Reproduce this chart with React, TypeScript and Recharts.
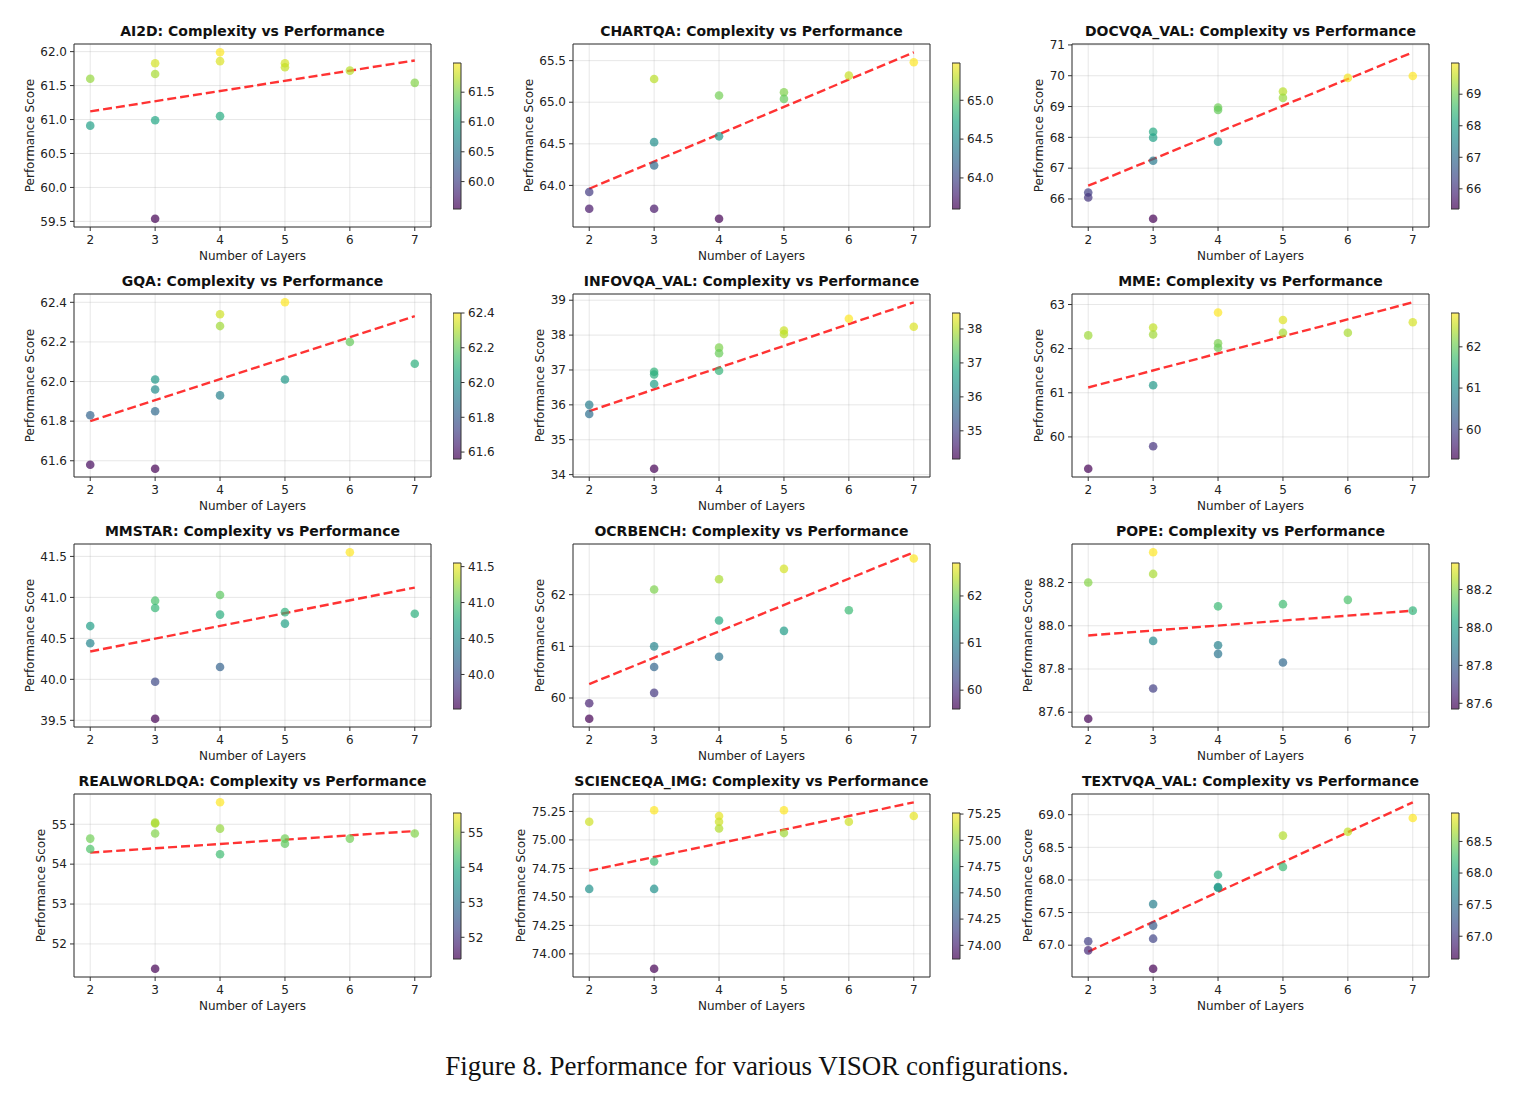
import React from "react";
import {
  CartesianGrid,
  Cell,
  ComposedChart,
  ReferenceArea,
  ReferenceLine,
  Scatter,
  XAxis,
  YAxis,
} from "recharts";

// x positions shared by every benchmark (13 configurations)
const layers = [2, 2, 3, 3, 3, 3, 4, 4, 4, 5, 5, 6, 7];
const layerTicks = [2, 3, 4, 5, 6, 7];

const ai2dScores = [61.6, 60.91, 61.83, 61.67, 60.99, 59.54, 61.99, 61.86, 61.05, 61.83, 61.77, 61.72, 61.54];
const ai2dTrend = [61.12, 61.87];
const ai2dTicks = [59.5, 60.0, 60.5, 61.0, 61.5, 62.0];
const ai2dBarTicks = [60.0, 60.5, 61.0, 61.5];

const chartqaScores = [63.92, 63.72, 65.28, 64.52, 64.24, 63.72, 65.08, 64.59, 63.6, 65.12, 65.04, 65.32, 65.48];
const chartqaTrend = [63.96, 65.6];
const chartqaTicks = [64.0, 64.5, 65.0, 65.5];
const chartqaBarTicks = [64.0, 64.5, 65.0];

const docvqaScores = [66.21, 66.05, 68.18, 67.99, 67.24, 65.36, 68.97, 68.89, 67.86, 69.49, 69.28, 69.93, 69.99];
const docvqaTrend = [66.43, 70.76];
const docvqaTicks = [66, 67, 68, 69, 70, 71];
const docvqaBarTicks = [66, 67, 68, 69];

const gqaScores = [61.83, 61.58, 62.01, 61.96, 61.85, 61.56, 62.34, 62.28, 61.93, 62.4, 62.01, 62.2, 62.09];
const gqaTrend = [61.8, 62.33];
const gqaTicks = [61.6, 61.8, 62.0, 62.2, 62.4];
const gqaBarTicks = [61.6, 61.8, 62.0, 62.2, 62.4];

const infovqaScores = [36.0, 35.74, 36.95, 36.87, 36.6, 34.17, 37.64, 37.48, 36.98, 38.13, 38.03, 38.47, 38.24];
const infovqaTrend = [35.82, 38.94];
const infovqaTicks = [34, 35, 36, 37, 38, 39];
const infovqaBarTicks = [35, 36, 37, 38];

const mmeScores = [62.3, 59.28, 62.48, 62.32, 61.17, 59.79, 62.82, 62.12, 62.02, 62.65, 62.36, 62.36, 62.6];
const mmeTrend = [61.12, 63.05];
const mmeTicks = [60, 61, 62, 63];
const mmeBarTicks = [60, 61, 62];

const mmstarScores = [40.65, 40.44, 40.96, 40.87, 39.97, 39.52, 41.03, 40.79, 40.15, 40.82, 40.68, 41.55, 40.8];
const mmstarTrend = [40.34, 41.12];
const mmstarTicks = [39.5, 40.0, 40.5, 41.0, 41.5];
const mmstarBarTicks = [40.0, 40.5, 41.0, 41.5];

const ocrbenchScores = [59.9, 59.6, 62.1, 61.0, 60.6, 60.1, 62.3, 61.5, 60.8, 62.5, 61.3, 61.7, 62.7];
const ocrbenchTrend = [60.27, 62.82];
const ocrbenchTicks = [60, 61, 62];
const ocrbenchBarTicks = [60, 61, 62];

const popeScores = [88.2, 87.57, 88.34, 88.24, 87.93, 87.71, 88.09, 87.91, 87.87, 88.1, 87.83, 88.12, 88.07];
const popeTrend = [87.955, 88.07];
const popeTicks = [87.6, 87.8, 88.0, 88.2];
const popeBarTicks = [87.6, 87.8, 88.0, 88.2];

const realworldScores = [54.64, 54.38, 55.04, 55.02, 54.77, 51.38, 55.55, 54.89, 54.25, 54.64, 54.51, 54.64, 54.77];
const realworldTrend = [54.29, 54.83];
const realworldTicks = [52, 53, 54, 55];
const realworldBarTicks = [52, 53, 54, 55];

const scienceqaScores = [75.16, 74.57, 75.26, 74.81, 74.57, 73.87, 75.21, 75.16, 75.1, 75.26, 75.06, 75.16, 75.21];
const scienceqaTrend = [74.73, 75.33];
const scienceqaTicks = [74.0, 74.25, 74.5, 74.75, 75.0, 75.25];
const scienceqaBarTicks = [74.0, 74.25, 74.5, 74.75, 75.0, 75.25];

const textvqaScores = [67.06, 66.92, 67.63, 67.3, 67.1, 66.64, 68.08, 67.89, 67.88, 68.68, 68.2, 68.74, 68.95];
const textvqaTrend = [66.9, 69.19];
const textvqaTicks = [67.0, 67.5, 68.0, 68.5, 69.0];
const textvqaBarTicks = [67.0, 67.5, 68.0, 68.5];

type Panel = {
  name: string;
  scores: number[];
  trend: number[];
  ticks: number[];
  barTicks: number[];
  digits: number;
};

const panels: Panel[] = [
  { name: "AI2D", scores: ai2dScores, trend: ai2dTrend, ticks: ai2dTicks, barTicks: ai2dBarTicks, digits: 1 },
  { name: "CHARTQA", scores: chartqaScores, trend: chartqaTrend, ticks: chartqaTicks, barTicks: chartqaBarTicks, digits: 1 },
  { name: "DOCVQA_VAL", scores: docvqaScores, trend: docvqaTrend, ticks: docvqaTicks, barTicks: docvqaBarTicks, digits: 0 },
  { name: "GQA", scores: gqaScores, trend: gqaTrend, ticks: gqaTicks, barTicks: gqaBarTicks, digits: 1 },
  { name: "INFOVQA_VAL", scores: infovqaScores, trend: infovqaTrend, ticks: infovqaTicks, barTicks: infovqaBarTicks, digits: 0 },
  { name: "MME", scores: mmeScores, trend: mmeTrend, ticks: mmeTicks, barTicks: mmeBarTicks, digits: 0 },
  { name: "MMSTAR", scores: mmstarScores, trend: mmstarTrend, ticks: mmstarTicks, barTicks: mmstarBarTicks, digits: 1 },
  { name: "OCRBENCH", scores: ocrbenchScores, trend: ocrbenchTrend, ticks: ocrbenchTicks, barTicks: ocrbenchBarTicks, digits: 0 },
  { name: "POPE", scores: popeScores, trend: popeTrend, ticks: popeTicks, barTicks: popeBarTicks, digits: 1 },
  { name: "REALWORLDQA", scores: realworldScores, trend: realworldTrend, ticks: realworldTicks, barTicks: realworldBarTicks, digits: 0 },
  { name: "SCIENCEQA_IMG", scores: scienceqaScores, trend: scienceqaTrend, ticks: scienceqaTicks, barTicks: scienceqaBarTicks, digits: 2 },
  { name: "TEXTVQA_VAL", scores: textvqaScores, trend: textvqaTrend, ticks: textvqaTicks, barTicks: textvqaBarTicks, digits: 1 },
];

const VIRIDIS = [
  "#440154", "#482475", "#414487", "#355f8d", "#2a788e", "#21918c",
  "#22a884", "#44bf70", "#7ad151", "#bddf26", "#fde725",
];

function hexToRgb(h: string) {
  return [1, 3, 5].map((i) => parseInt(h.slice(i, i + 2), 16));
}

function viridis(t: number) {
  const c = Math.max(0, Math.min(1, t)) * (VIRIDIS.length - 1);
  const i = Math.min(Math.floor(c), VIRIDIS.length - 2);
  const f = c - i;
  const a = hexToRgb(VIRIDIS[i]);
  const b = hexToRgb(VIRIDIS[i + 1]);
  const rgb = a.map((v, k) => Math.round(v + (b[k] - v) * f));
  return `rgb(${rgb[0]},${rgb[1]},${rgb[2]})`;
}

const FONT = "'DejaVu Sans', sans-serif";
const TICK_FONT = 12;
const PLOT_W = 357;
const PLOT_H = 183;
const COL_X = [74, 573, 1072];
const ROW_Y = [44, 294, 544, 794];
const X_DOMAIN: [number, number] = [1.75, 7.25];
const CB_PAD = 10; // room above/below the colour bar for edge labels

// rough DejaVu Sans width of a tick label at TICK_FONT
function labelWidth(s: string) {
  let w = 0;
  for (const ch of s) w += ch === "." ? 0.318 * TICK_FONT : 0.636 * TICK_FONT;
  return w;
}

const tickStyle = { fontSize: TICK_FONT, fill: "#222", fontFamily: FONT };

function PanelChart({ p, idx }: { p: Panel; idx: number }) {
  const left = COL_X[idx % 3];
  const top = ROW_Y[Math.floor(idx / 3)];
  const vmin = Math.min(...p.scores);
  const vmax = Math.max(...p.scores);
  const lo = Math.min(vmin, ...p.trend);
  const hi = Math.max(vmax, ...p.trend);
  const pad = (hi - lo) * 0.05;
  const yDomain: [number, number] = [lo - pad, hi + pad];

  const points = layers.map((x, i) => ({
    x,
    y: p.scores[i],
    color: viridis((p.scores[i] - vmin) / (vmax - vmin)),
  }));

  const fmt = (v: number) => v.toFixed(p.digits);
  const widest = Math.max(...p.ticks.map((t) => labelWidth(fmt(t))));
  const yLabelX = left - (7 + widest + 10.5);
  const gradId = `cbar-${idx}`;

  return (
    <>
      <div
        style={{
          position: "absolute",
          left: left - 40,
          top: top - 21,
          width: PLOT_W + 80,
          textAlign: "center",
          fontFamily: FONT,
          fontWeight: "bold",
          fontSize: 14,
          lineHeight: "17px",
          color: "#111",
          whiteSpace: "nowrap",
        }}
      >
        {p.name}: Complexity vs Performance
      </div>
      <div
        style={{
          position: "absolute",
          left: yLabelX - 100,
          top: top + PLOT_H / 2 - 7.5,
          width: 200,
          textAlign: "center",
          fontFamily: FONT,
          fontSize: TICK_FONT,
          lineHeight: "15px",
          color: "#222",
          transform: "rotate(-90deg)",
        }}
      >
        Performance Score
      </div>
      <div
        style={{
          position: "absolute",
          left,
          top: top + PLOT_H + 22,
          width: PLOT_W,
          textAlign: "center",
          fontFamily: FONT,
          fontSize: TICK_FONT,
          lineHeight: "15px",
          color: "#222",
        }}
      >
        Number of Layers
      </div>

      <div style={{ position: "absolute", left: left - 60, top: top - 10 }}>
        <ComposedChart
          width={60 + PLOT_W + 10}
          height={10 + PLOT_H + 30}
          data={points}
          margin={{ top: 10, right: 10, left: 10, bottom: 0 }}
        >
          <CartesianGrid stroke="#b0b0b0" strokeOpacity={0.3} />
          <XAxis
            type="number"
            dataKey="x"
            domain={X_DOMAIN}
            ticks={layerTicks}
            interval={0}
            allowDataOverflow
            height={30}
            axisLine={false}
            stroke="#333"
            tickSize={4}
            tickMargin={4}
            tick={tickStyle}
          />
          <YAxis
            type="number"
            dataKey="y"
            domain={yDomain}
            ticks={p.ticks}
            interval={0}
            allowDataOverflow
            width={50}
            axisLine={false}
            stroke="#333"
            tickSize={4}
            tickMargin={3}
            tickFormatter={fmt}
            tick={tickStyle}
          />
          <Scatter
            data={points}
            isAnimationActive={false}
            shape={(s: any) => (
              <circle cx={s.cx} cy={s.cy} r={4.3} fill={s.payload.color} fillOpacity={0.7} />
            )}
          >
            {points.map((pt, i) => (
              <Cell key={i} fill={pt.color} />
            ))}
          </Scatter>
          <ReferenceLine
            segment={[
              { x: 2, y: p.trend[0] },
              { x: 7, y: p.trend[1] },
            ]}
            stroke="#ff0000"
            strokeOpacity={0.8}
            strokeWidth={2.4}
            strokeDasharray="9 4"
          />
          <ReferenceArea
            x1={X_DOMAIN[0]}
            x2={X_DOMAIN[1]}
            y1={yDomain[0]}
            y2={yDomain[1]}
            fill="none"
            fillOpacity={0}
            stroke="#333"
            strokeWidth={1}
          />
        </ComposedChart>
      </div>

      {/* colour bar */}
      <div style={{ position: "absolute", left: left + 379, top: top + 19 - CB_PAD }}>
        <ComposedChart
          width={8 + 48}
          height={146 + 2 * CB_PAD}
          data={[
            { x: 0, y: vmin },
            { x: 1, y: vmax },
          ]}
          margin={{ top: CB_PAD, right: 0, left: 0, bottom: CB_PAD }}
        >
          <defs>
            <linearGradient id={gradId} x1="0" y1="0" x2="0" y2="1">
              {VIRIDIS.map((c, i) => (
                <stop
                  key={i}
                  offset={`${(i / (VIRIDIS.length - 1)) * 100}%`}
                  stopColor={VIRIDIS[VIRIDIS.length - 1 - i]}
                  stopOpacity={0.7}
                />
              ))}
            </linearGradient>
          </defs>
          <XAxis type="number" dataKey="x" domain={[0, 1]} hide />
          <YAxis
            type="number"
            dataKey="y"
            orientation="right"
            domain={[vmin, vmax]}
            ticks={p.barTicks}
            interval={0}
            allowDataOverflow
            width={48}
            axisLine={false}
            stroke="#333"
            tickSize={3.5}
            tickMargin={3.5}
            tickFormatter={fmt}
            tick={{ ...tickStyle, textAnchor: "start" }}
          />
          <Scatter dataKey="y" isAnimationActive={false} shape={() => <g />} />
          <ReferenceArea
            x1={0}
            x2={1}
            y1={vmin}
            y2={vmax}
            fill={`url(#${gradId})`}
            fillOpacity={1}
            stroke="#333"
            strokeWidth={1}
          />
        </ComposedChart>
      </div>
    </>
  );
}

export default function App() {
  return (
    <div
      style={{
        position: "absolute",
        left: 0,
        top: 0,
        width: 1514,
        height: 1097,
        background: "#fff",
      }}
    >
      {panels.map((p, i) => (
        <PanelChart key={p.name} p={p} idx={i} />
      ))}
      <div
        style={{
          position: "absolute",
          left: 0,
          top: 1048,
          width: 1514,
          textAlign: "center",
          fontFamily: "'Liberation Serif', 'Times New Roman', serif",
          fontSize: 27,
          lineHeight: "36px",
          color: "#111",
        }}
      >
        Figure 8. Performance for various VISOR configurations.
      </div>
    </div>
  );
}
